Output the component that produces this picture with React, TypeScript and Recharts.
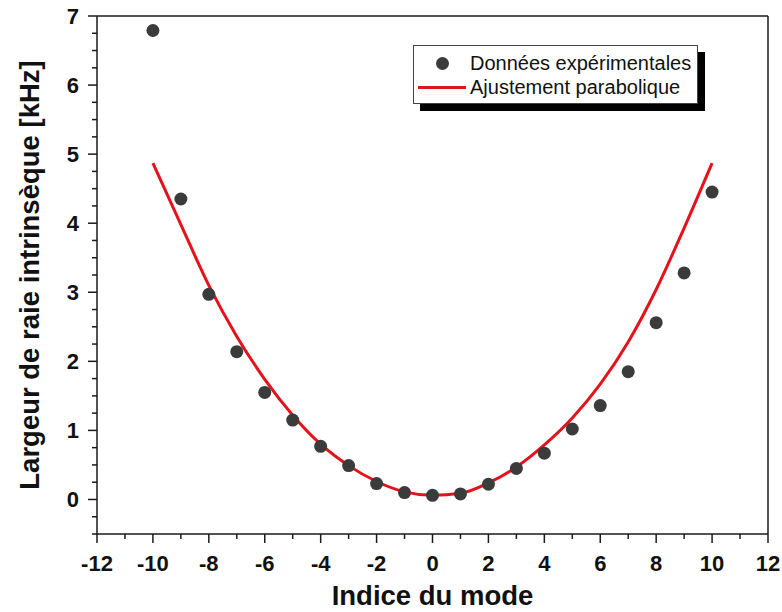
import React from 'react';
import { ComposedChart, Line, Scatter, XAxis, YAxis, ReferenceLine, Legend } from 'recharts';

// experimental points (mode index, linewidth in kHz)
const modeIndex = [-10, -9, -8, -7, -6, -5, -4, -3, -2, -1, 0, 1, 2, 3, 4, 5, 6, 7, 8, 9, 10];
const measuredWidth = [6.79, 4.35, 2.97, 2.14, 1.55, 1.15, 0.77, 0.49, 0.23, 0.1, 0.06, 0.08, 0.22, 0.45, 0.67, 1.02, 1.36, 1.85, 2.56, 3.28, 4.45];

// parabolic fit
const fitIndex = [-10, -9, -8, -7, -6, -5, -4, -3, -2, -1, 0, 1, 2, 3, 4, 5, 6, 7, 8, 9, 10];
const fitWidth = [4.87, 3.98, 3.1, 2.36, 1.74, 1.22, 0.8, 0.49, 0.26, 0.11, 0.06, 0.09, 0.24, 0.47, 0.79, 1.18, 1.67, 2.28, 3.04, 3.93, 4.87];

const xTicks = [-12, -11, -10, -9, -8, -7, -6, -5, -4, -3, -2, -1, 0, 1, 2, 3, 4, 5, 6, 7, 8, 9, 10, 11, 12];
const yTicks = [-0.5, -0.25, 0, 0.25, 0.5, 0.75, 1, 1.25, 1.5, 1.75, 2, 2.25, 2.5, 2.75, 3, 3.25, 3.5, 3.75, 4, 4.25, 4.5, 4.75, 5, 5.25, 5.5, 5.75, 6, 6.25, 6.5, 6.75, 7];

const pointData = modeIndex.map((x, i) => ({ x, y: measuredWidth[i] }));
const fitData = fitIndex.map((x, i) => ({ x, y: fitWidth[i] }));

const FONT = '"Liberation Sans", Arial, sans-serif';
const AXIS = '#1a1a1a';

const XTick = ({ x, y, payload }: any) => {
  const major = payload.value % 2 === 0;
  return (
    <g>
      <line x1={x} y1={y} x2={x} y2={y + (major ? 9 : 5)} stroke={AXIS} strokeWidth={1.5} />
      {major && (
        <text x={x} y={y + 37} textAnchor="middle" fontFamily={FONT} fontWeight="bold" fontSize={22} fill="#111">
          {payload.value}
        </text>
      )}
    </g>
  );
};

const YTick = ({ x, y, payload }: any) => {
  const major = Number.isInteger(payload.value);
  return (
    <g>
      <line x1={x} y1={y} x2={x - (major ? 9 : 5)} y2={y} stroke={AXIS} strokeWidth={1.5} />
      {major && (
        <text x={x - 18} y={y + 8} textAnchor="end" fontFamily={FONT} fontWeight="bold" fontSize={22} fill="#111">
          {payload.value}
        </text>
      )}
    </g>
  );
};

const Dot = (props: any) => <circle cx={props.cx} cy={props.cy} r={6.5} fill="#3b3b3b" />;

const LegendBox = () => (
  <div
    style={{
      background: '#fff',
      border: '1px solid #444',
      boxShadow: '7px 7px 0 #000',
      width: 285,
      height: 59,
      fontFamily: FONT,
      fontSize: 20,
      color: '#111',
      boxSizing: 'border-box',
      paddingTop: 5,
      whiteSpace: 'nowrap',
    }}
  >
    <div style={{ display: 'flex', alignItems: 'center', height: 24 }}>
      <div style={{ width: 56, display: 'flex', justifyContent: 'center' }}>
        <div style={{ width: 13, height: 13, borderRadius: '50%', background: '#3b3b3b' }} />
      </div>
      <span>Données expérimentales</span>
    </div>
    <div style={{ display: 'flex', alignItems: 'center', height: 24 }}>
      <div style={{ width: 56, display: 'flex', justifyContent: 'center' }}>
        <div style={{ width: 48, height: 3, background: '#e3121b' }} />
      </div>
      <span>Ajustement parabolique</span>
    </div>
  </div>
);

export default function App() {
  return (
    <div style={{ position: 'absolute', left: 0, top: 0, width: 782, height: 612, background: '#fff' }}>
      <ComposedChart width={782} height={612} margin={{ top: 16, right: 14, bottom: 38, left: 37 }}>
        <XAxis
          type="number"
          dataKey="x"
          domain={[-12, 12]}
          ticks={xTicks}
          interval={0}
          tick={<XTick />}
          tickLine={false}
          tickSize={0}
          tickMargin={0}
          height={40}
          axisLine={{ stroke: AXIS, strokeWidth: 1.5 }}
          allowDataOverflow
          label={{
            value: 'Indice du mode',
            content: ({ viewBox }: any) => (
              <text x={viewBox.x + viewBox.width / 2} y={605} textAnchor="middle" fontFamily={FONT} fontWeight="bold" fontSize={27.5} fill="#111">
                Indice du mode
              </text>
            ),
          }}
        />
        <YAxis
          type="number"
          dataKey="y"
          domain={[-0.5, 7]}
          ticks={yTicks}
          interval={0}
          tick={<YTick />}
          tickLine={false}
          tickSize={0}
          tickMargin={0}
          width={60}
          axisLine={{ stroke: AXIS, strokeWidth: 1.5 }}
          allowDataOverflow
          label={{
            value: 'Largeur de raie intrinsèque [kHz]',
            content: ({ viewBox }: any) => {
              const cx = viewBox.x - 8;
              const cy = viewBox.y + viewBox.height / 2;
              return (
                <text
                  x={cx}
                  y={cy}
                  transform={`rotate(-90, ${cx}, ${cy})`}
                  textAnchor="middle"
                  dominantBaseline="central"
                  fontFamily={FONT}
                  fontWeight="bold"
                  fontSize={27.5}
                  fill="#111"
                >
                  Largeur de raie intrinsèque [kHz]
                </text>
              );
            },
          }}
        />
        <ReferenceLine y={7} stroke={AXIS} strokeWidth={1.5} />
        <ReferenceLine x={12} stroke={AXIS} strokeWidth={1.5} />
        <Line
          data={fitData}
          dataKey="y"
          type="monotone"
          stroke="#e3121b"
          strokeWidth={3}
          dot={false}
          isAnimationActive={false}
          name="Ajustement parabolique"
        />
        <Scatter data={pointData} dataKey="y" shape={<Dot />} isAnimationActive={false} name="Données expérimentales" />
        <Legend
          layout="vertical"
          align="center"
          verticalAlign="middle"
          content={<LegendBox />}
          wrapperStyle={{ left: 413, top: 45, width: 'auto' }}
        />
      </ComposedChart>
    </div>
  );
}
